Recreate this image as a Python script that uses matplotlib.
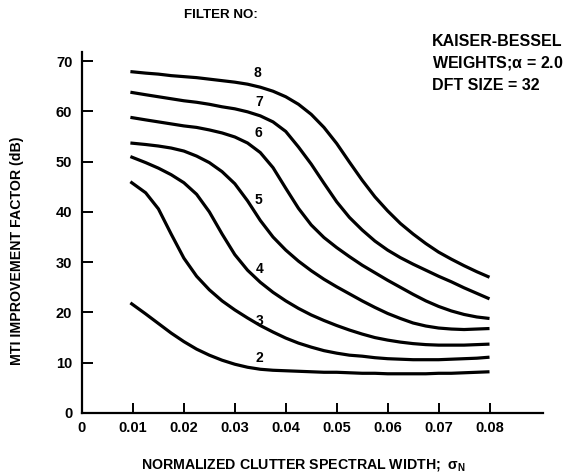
import matplotlib
matplotlib.use("Agg")
import matplotlib.pyplot as plt

plt.rcParams['font.family'] = ['Liberation Sans', 'DejaVu Sans']
plt.rcParams['font.weight'] = 'bold'
plt.rcParams['mathtext.fontset'] = 'custom'
plt.rcParams['mathtext.rm'] = 'Liberation Sans:bold'
plt.rcParams['mathtext.it'] = 'Liberation Sans:bold'
plt.rcParams['mathtext.bf'] = 'Liberation Sans:bold'

# normalized clutter spectral width
sigma_n = [0.0095, 0.0125, 0.015, 0.0175, 0.02, 0.0225, 0.025, 0.0275, 0.03,
           0.0325, 0.035, 0.0375, 0.04, 0.0425, 0.045, 0.0475, 0.05, 0.0525,
           0.055, 0.0575, 0.06, 0.0625, 0.065, 0.0675, 0.07, 0.0725, 0.075,
           0.0775, 0.08]

# MTI improvement factor (dB) for each DFT filter
filter_2 = [21.9, 19.7, 17.8, 15.9, 14.2, 12.7, 11.5, 10.5, 9.7, 9.1, 8.7, 8.5,
            8.4, 8.3, 8.2, 8.1, 8.1, 8.0, 7.9, 7.9, 7.8, 7.8, 7.8, 7.8, 7.9,
            7.9, 8.0, 8.1, 8.2]
filter_3 = [46.0, 43.8, 40.6, 35.6, 30.8, 27.2, 24.5, 22.3, 20.5, 18.9, 17.4, 16.1,
            14.9, 13.9, 13.1, 12.4, 11.9, 11.5, 11.3, 11.0, 10.8, 10.7, 10.6, 10.6,
            10.6, 10.7, 10.8, 10.9, 11.1]
filter_4 = [51.0, 49.8, 48.7, 47.4, 45.8, 43.5, 40.0, 35.6, 31.5, 28.4, 26.0, 24.0,
            22.3, 20.8, 19.5, 18.4, 17.4, 16.5, 15.7, 15.0, 14.5, 14.1, 13.8, 13.6,
            13.5, 13.5, 13.5, 13.6, 13.7]
filter_5 = [53.7, 53.4, 53.1, 52.7, 52.1, 51.1, 49.8, 48.0, 45.6, 42.2, 38.3, 35.0,
            32.4, 30.2, 28.3, 26.6, 25.1, 23.7, 22.3, 21.0, 19.8, 18.8, 17.9, 17.3,
            16.9, 16.7, 16.6, 16.7, 16.8]
filter_6 = [58.8, 58.3, 57.9, 57.5, 57.1, 56.8, 56.3, 55.7, 54.9, 53.7, 51.8, 48.8,
            44.7, 40.7, 37.4, 34.9, 32.9, 31.1, 29.4, 27.9, 26.4, 25.0, 23.6, 22.3,
            21.2, 20.3, 19.6, 19.1, 18.8]
filter_7 = [63.8, 63.3, 62.9, 62.5, 62.1, 61.8, 61.4, 60.9, 60.5, 59.9, 59.1, 57.9,
            56.0, 52.9, 49.5, 45.7, 42.0, 38.9, 36.4, 34.2, 32.4, 30.9, 29.6, 28.4,
            27.2, 26.1, 24.9, 23.8, 22.7]
filter_8 = [67.9, 67.6, 67.4, 67.1, 66.9, 66.7, 66.4, 66.1, 65.8, 65.4, 64.8, 64.0,
            62.9, 61.4, 59.4, 56.8, 53.6, 49.9, 46.3, 43.0, 40.2, 37.7, 35.6, 33.7,
            32.0, 30.6, 29.3, 28.1, 27.0]

filter_numbers = ['2', '3', '4', '5', '6', '7', '8']
filter_curves = [filter_2, filter_3, filter_4, filter_5, filter_6, filter_7, filter_8]
label_x = [0.0348, 0.0348, 0.0349, 0.0347, 0.0346, 0.0348, 0.0345]
label_y = [10.9, 18.3, 28.7, 42.3, 55.7, 61.8, 67.6]

x_ticks = [0, 0.01, 0.02, 0.03, 0.04, 0.05, 0.06, 0.07, 0.08]
x_tick_labels = ['0', '0.01', '0.02', '0.03', '0.04', '0.05', '0.06', '0.07', '0.08']
y_ticks = [0, 10, 20, 30, 40, 50, 60, 70]

W, H = 578, 476
fig = plt.figure(figsize=(W / 100, H / 100), dpi=100)
ax = fig.add_axes([82 / W, 1 - 413 / H, (543 - 82) / W, (413 - 52) / H])
ax.set_xlim(0, 0.0905)
ax.set_ylim(0, 71.8)

for ys in filter_curves:
    ax.plot(sigma_n, ys, color='black', lw=2.3, solid_capstyle='butt',
            solid_joinstyle='round')

for num, lx, ly in zip(filter_numbers, label_x, label_y):
    ax.text(lx, ly, num, fontsize=10, fontweight='bold', ha='center', va='center')

for side in ('top', 'right'):
    ax.spines[side].set_visible(False)
for side in ('left', 'bottom'):
    ax.spines[side].set_linewidth(1.6)

ax.set_xticks(x_ticks)
ax.set_xticklabels(x_tick_labels)
ax.set_yticks(y_ticks)
ax.tick_params(axis='both', direction='in', width=1.4, labelsize=10.5)
ax.tick_params(axis='y', length=8, pad=7)
ax.tick_params(axis='x', length=7, pad=6)
for lab in ax.get_xticklabels() + ax.get_yticklabels():
    lab.set_fontweight('bold')

fig.text(221 / W, 1 - 15 / H, 'FILTER NO:', fontsize=9.6, fontweight='bold',
         ha='center', va='center')
fig.text(17 / W, 1 - 251 / H, 'MTI IMPROVEMENT FACTOR (dB)', fontsize=10.2,
         fontweight='bold', rotation=90, ha='center', va='center')
fig.text(303 / W, 1 - 465 / H,
         r'NORMALIZED CLUTTER SPECTRAL WIDTH;  $\sigma_\mathrm{N}$',
         fontsize=10.2, fontweight='bold', ha='center', va='center')

fig.text(432 / W, 1 - 42 / H, 'KAISER-BESSEL', fontsize=11.5, fontweight='bold',
         ha='left', va='center')
fig.text(432 / W, 1 - 63 / H, r'WEIGHTS;$\alpha$ = 2.0', fontsize=11.5,
         fontweight='bold', ha='left', va='center')
fig.text(432 / W, 1 - 85 / H, 'DFT SIZE = 32', fontsize=11.5, fontweight='bold',
         ha='left', va='center')

fig.savefig('out.png', dpi=100, facecolor='white')
